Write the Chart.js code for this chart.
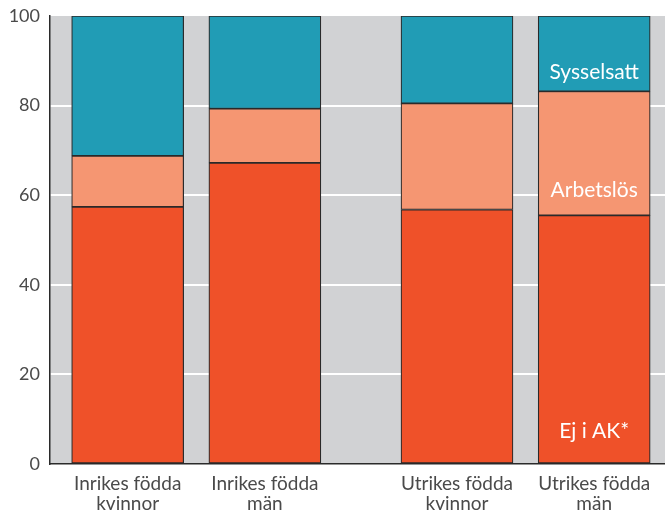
<!DOCTYPE html>
<html>
<head>
<meta charset="utf-8">
<script src="https://cdn.jsdelivr.net/npm/chart.js@4.4.1/dist/chart.umd.min.js"></script>
<style>
html, body { margin: 0; padding: 0; background: #fff; }
#wrap { width: 665px; height: 513px; }
</style>
</head>
<body>
<div id="wrap"><canvas id="chart"></canvas></div>
<script>
// data (percent of each group)
var categories = [["Inrikes födda", "kvinnor"], ["Inrikes födda", "män"], ["Utrikes födda", "kvinnor"], ["Utrikes födda", "män"]];
var ejIAK = [57.4, 67.2, 56.8, 55.5];
var arbetslos = [11.4, 12.1, 23.7, 27.7];
var sysselsatt = [31.2, 20.7, 19.5, 16.8];
var seriesNames = ["Ej i AK*", "Arbetslös", "Sysselsatt"];
var yTicks = [0, 20, 40, 60, 80, 100];

// the two groups are spaced apart, so bars sit on a linear x scale
var groupPos = [0, 1, 2.4, 3.4];
var font = "Lato, 'Open Sans', sans-serif";

function points(values) {
    return values.map(function (v, i) { return { x: groupPos[i], y: v }; });
}

function makeSet(name, values, color) {
    return {
        label: name,
        data: points(values),
        backgroundColor: color,
        borderColor: '#2a2a2a',
        borderWidth: 1.2,
        borderSkipped: false,
        barThickness: 112
    };
}

var plotBg = {
    id: 'plotBg',
    beforeDraw: function (chart) {
        var a = chart.chartArea;
        var ctx = chart.ctx;
        ctx.save();
        ctx.fillStyle = '#d1d2d4';
        ctx.fillRect(a.left, a.top, a.right - a.left, a.bottom - a.top);
        ctx.restore();
    }
};

// names written inside the last bar, baseline a bit above each segment's bottom
var barNames = {
    id: 'barNames',
    afterDatasetsDraw: function (chart) {
        var ctx = chart.ctx;
        ctx.save();
        ctx.fillStyle = '#ffffff';
        ctx.font = '21px ' + font;
        ctx.textAlign = 'center';
        ctx.textBaseline = 'alphabetic';
        var offs = [25, 18, 12];
        for (var d = 0; d < chart.data.datasets.length; d++) {
            var el = chart.getDatasetMeta(d).data[groupPos.length - 1];
            ctx.fillText(seriesNames[d], el.x, el.base - offs[d]);
        }
        ctx.restore();
    }
};

var config = {
    type: 'bar',
    plugins: [plotBg, barNames],
    data: {
        datasets: [
            makeSet(seriesNames[0], ejIAK, '#ef5129'),
            makeSet(seriesNames[1], arbetslos, '#f59672'),
            makeSet(seriesNames[2], sysselsatt, '#219cb5')
        ]
    },
    options: {
        responsive: true,
        maintainAspectRatio: false,
        animation: false,
        layout: { padding: { top: 16, left: 0, right: 0, bottom: 0 } },
        plugins: {
            legend: { display: false },
            tooltip: { enabled: false }
        },
        scales: {
            x: {
                type: 'linear',
                stacked: true,
                offset: false,
                min: -0.566,
                max: 3.916,
                afterBuildTicks: function (scale) {
                    scale.ticks = groupPos.map(function (v) { return { value: v }; });
                },
                afterFit: function (scale) { scale.height = 49; },
                grid: { display: false, offset: false },
                border: { display: true, color: '#2a2a2a', width: 1.5 },
                ticks: {
                    autoSkip: false,
                    maxRotation: 0,
                    padding: 1,
                    color: '#4a4a4a',
                    font: { family: font, size: 19, lineHeight: 1.1 },
                    callback: function (val, idx) { return categories[idx]; }
                }
            },
            y: {
                stacked: true,
                min: 0,
                max: 100,
                afterBuildTicks: function (scale) {
                    scale.ticks = yTicks.map(function (v) { return { value: v }; });
                },
                afterFit: function (scale) {
                    scale.width = 50;
                    scale.paddingTop = 0;
                    scale.paddingBottom = 0;
                },
                grid: {
                    drawTicks: false,
                    lineWidth: 2,
                    color: function (c) {
                        return (c.tick && c.tick.value > 0 && c.tick.value < 100) ? '#ffffff' : 'rgba(0,0,0,0)';
                    }
                },
                border: { display: true, color: '#2a2a2a', width: 1.5 },
                ticks: {
                    padding: 10,
                    color: '#4a4a4a',
                    font: { family: font, size: 18 }
                }
            }
        }
    }
};

var ctx = document.getElementById('chart').getContext('2d');
window.myChart = new Chart(ctx, config);
</script>
</body>
</html>
